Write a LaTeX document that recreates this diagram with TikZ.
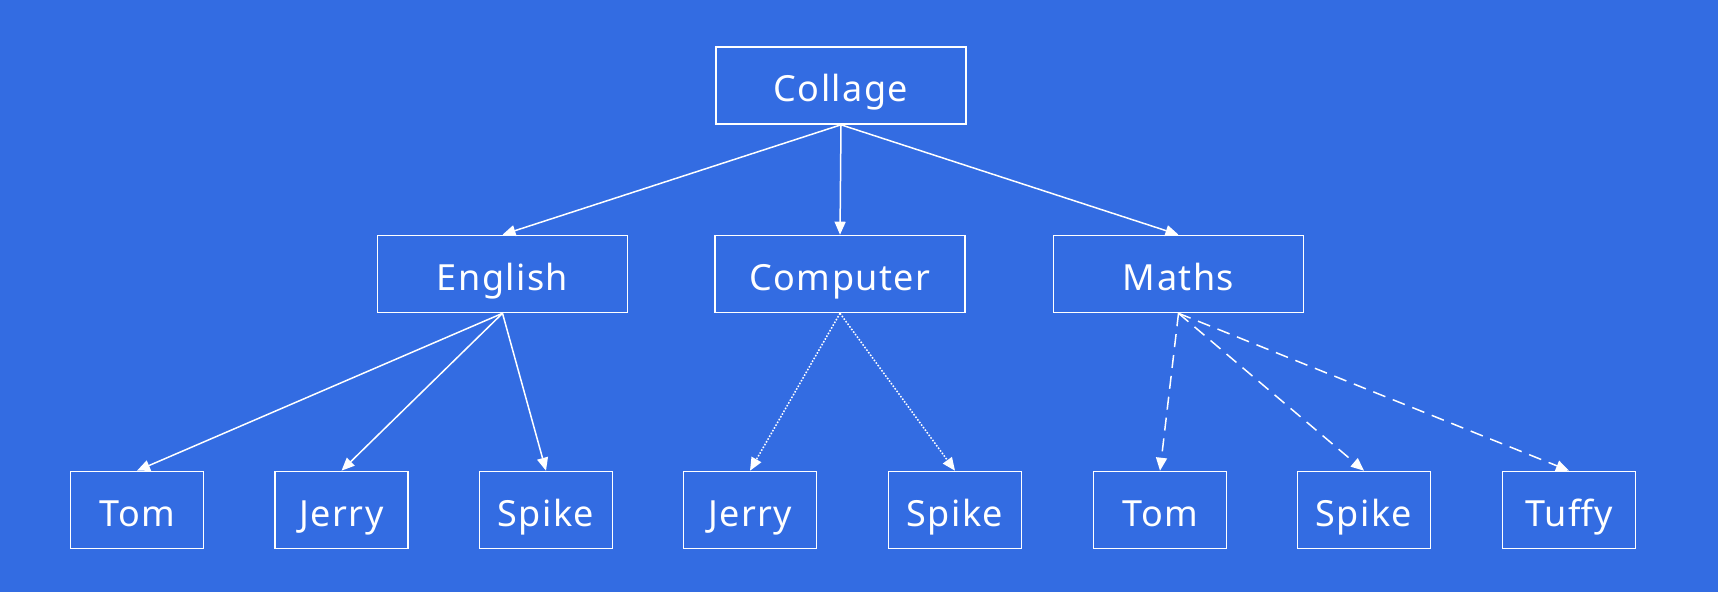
\documentclass[tikz,border=0pt]{standalone}
\usepackage{fontspec}
\setmainfont{Noto Sans}[LetterSpace=4]
\usetikzlibrary{arrows.meta}
\definecolor{bg}{RGB}{51,108,226}
\begin{document}
\begin{tikzpicture}[x=1pt,y=-1pt,
  box/.style={draw=white, line width=1.6pt, text=white, minimum width=250pt,
    minimum height=77pt, inner sep=0pt, text height=36pt, text depth=4pt,
    font=\fontsize{36}{40}\selectfont},
  leaf/.style={box, minimum width=133pt},
  link/.style={draw=white, line width=1.5pt, -{Triangle[length=13pt,width=11pt]}},
  dotlink/.style={link, dash pattern=on 1.6pt off 1.6pt},
  dashlink/.style={link, dash pattern=on 13pt off 8pt}]
\fill[bg] (0,0) rectangle (1718,592);
\useasboundingbox (0,0) rectangle (1718,592);

% root and subjects
\node[box] (col) at (841,85.5) {Collage};
\node[box] (eng) at (502.5,274) {English};
\node[box] (com) at (840,274) {Computer};
\node[box] (mat) at (1178.5,274) {Maths};

% students
\node[leaf] (e1) at (137,510) {Tom};
\node[leaf] (e2) at (341.5,510) {Jerry};
\node[leaf] (e3) at (546,510) {Spike};
\node[leaf] (c1) at (750,510) {Jerry};
\node[leaf] (c2) at (955,510) {Spike};
\node[leaf] (m1) at (1160,510) {Tom};
\node[leaf] (m2) at (1364,510) {Spike};
\node[leaf] (m3) at (1569,510) {Tuffy};

% connectors
\draw[link] (col.south) -- (eng.north);
\draw[link] (col.south) -- (com.north);
\draw[link] (col.south) -- (mat.north);
\draw[link] (eng.south) -- (e1.north);
\draw[link] (eng.south) -- (e2.north);
\draw[link] (eng.south) -- (e3.north);
\draw[dotlink] (com.south) -- (c1.north);
\draw[dotlink] (com.south) -- (c2.north);
\draw[dashlink] (mat.south) -- (m1.north);
\draw[dashlink] (mat.south) -- (m2.north);
\draw[dashlink] (mat.south) -- (m3.north);
\end{tikzpicture}
\end{document}
